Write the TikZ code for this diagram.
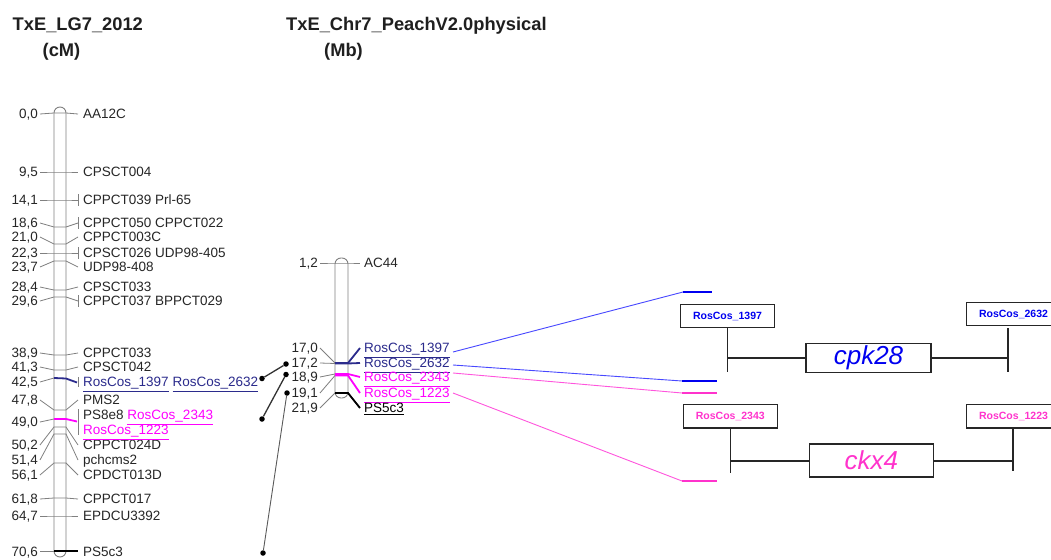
\documentclass[tikz,border=0pt]{standalone}
\usepackage{fontspec}
\setmainfont{Liberation Sans}
\definecolor{txt}{HTML}{262626}
\definecolor{tick}{HTML}{808080}
\definecolor{navy}{HTML}{2B2B8C}
\definecolor{mag}{HTML}{FF00FF}
\definecolor{blu}{HTML}{0000F0}
\definecolor{pnk}{HTML}{FF33CC}
\definecolor{bluL}{HTML}{4848FF}
\definecolor{pnkL}{HTML}{FF55DD}
\begin{document}
\begin{tikzpicture}[x=1pt,y=-1pt,
  lab/.style={font=\fontsize{13.5}{16}\selectfont, inner sep=0pt, text=txt, text height=9.8pt, text depth=0pt},
  num/.style={lab, anchor=east},
  nam/.style={lab, anchor=west},
  tk/.style={draw=tick, line width=0.8pt},
  chrom/.style={draw=tick, line width=0.9pt, rounded corners=6pt},
  ttl/.style={font=\fontsize{18.3}{21}\bfseries\selectfont, inner sep=0pt, anchor=west, text=black!88, text height=13pt, text depth=0pt},
  dot/.style={circle, fill=black, inner sep=0pt, minimum size=5.5pt},
  link/.style={line width=1.3pt, draw=black!80},
  mk/.style={line width=1.8pt},
  tag/.style={draw=black!85, line width=1.2pt, inner sep=0pt, minimum width=93.6pt, minimum height=23.5pt, font=\fontsize{10.5}{12}\bfseries\selectfont},
  gene/.style={draw=black!85, line width=1.6pt, inner sep=0pt, font=\fontsize{26}{30}\itshape\selectfont},
  arm/.style={line width=1.6pt, draw=black!85},
  thin/.style={line width=0.9pt},
  bar/.style={line width=2pt}]
\useasboundingbox (0,0) rectangle (1051,559);
\clip (0,0) rectangle (1051,559);
\fill[white] (0,0) rectangle (1051,559);

% titles
\node[ttl] (t1) at (12.5,24) {TxE\_LG7\_2012};
\node[ttl] (t1u) at (42.5,50) {(cM)};
\node[ttl] (t2) at (286,24) {TxE\_Chr7\_PeachV2.0physical};
\node[ttl] (t2u) at (324,50) {(Mb)};

% left chromosome
\draw[chrom] (54,107) rectangle (66,557);
\foreach \ly/\cy/\num/\nm/\br [count=\k] in {
 114/113/{0,0}/AA12C/0,
 172/172/{9,5}/CPSCT004/0,
 200/200/{14,1}/{CPPCT039 Prl-65}/1,
 223/227/{18,6}/{CPPCT050 CPPCT022}/1,
 237/244/{21,0}/CPPCT003C/0,
 253/253/{22,3}/{CPSCT026 UDP98-405}/1,
 267/261/{23,7}/UDP98-408/0,
 287/290/{28,4}/CPSCT033/0,
 301/297/{29,6}/{CPPCT037 BPPCT029}/1,
 353/355/{38,9}/CPPCT033/0,
 367/370/{41,3}/CPSCT042/0,
 400/410/{47,8}/PMS2/0,
 445/427/{50,2}/CPPCT024D/0,
 460/434/{51,4}/pchcms2/0,
 475/463/{56,1}/CPDCT013D/0,
 499/498/{61,8}/CPPCT017/0,
 516/516/{64,7}/EPDCU3392/0}{
  \node[num] (lnum\k) at (38,\ly) {\num};
  \node[nam] (lnam\k) at (83,\ly) {\nm};
  \coordinate (lcl\k) at (54,\cy);
  \coordinate (lcr\k) at (66,\cy);
  \draw[tk] ([xshift=2pt]lnum\k.east) -- (lcl\k) -- (lcr\k) -- ([xshift=-5pt]lnam\k.west);
  \ifnum\br=1 \draw[tk] (78,\ly-6) -- (78,\ly+6); \fi
}
% 42,5 navy group
\node[num] (lnumA) at (38,382) {42,5};
\node[nam] (lnamA) at (83,382) {\textcolor{navy}{\underline{RosCos\_1397}} \textcolor{navy}{\underline{RosCos\_2632}}};
\coordinate (lclA) at (54,378); \coordinate (lcrA) at (66,378.5);
\draw[tk] ([xshift=2pt]lnumA.east) -- (lclA);
\draw[navy, mk] (lclA) -- (lcrA) -- (77,382.5);
\draw[tk] (78,377) -- (78,387);
% 49,0 magenta group
\node[num] (lnumB) at (38,422) {49,0};
\node[nam] (lnamB) at (83,415) {PS8e8 \textcolor{mag}{\underline{RosCos\_2343}}};
\node[nam] (lnamC) at (83,430) {\textcolor{mag}{\underline{RosCos\_1223}}};
\coordinate (lclB) at (54,419); \coordinate (lcrB) at (66,419);
\draw[tk] ([xshift=2pt]lnumB.east) -- (lclB);
\draw[mag, mk] (lclB) -- (lcrB) -- (77,421.5);
\draw[tk] (78,409) -- (78,435);
% 70,6
\node[num] (lnumC) at (38,552) {70,6};
\node[nam] (lnamD) at (83,552) {PS5c3};
\coordinate (lclC) at (54,551); \coordinate (lcrC) at (66,551);
\draw[tk] ([xshift=2pt]lnumC.east |- lclC) -- (lclC);
\draw[black, mk] (lclC) -- (lcrC) -- (78,551);

% middle chromosome
\draw[chrom] (335,258) rectangle (348,398);
\node[num] (mnum0) at (318,263) {1,2};
\node[nam] (mnam0) at (364,263) {AC44};
\draw[tk] ([xshift=2pt]mnum0.east) -- (335,263) -- (348,263) -- ([xshift=-4pt]mnam0.west);
\foreach \ly/\cy/\num/\nm/\col [count=\k] in {
 348/363/{17,0}/RosCos\_1397/navy,
 363/363.5/{17,2}/RosCos\_2632/navy,
 377/374/{18,9}/RosCos\_2343/mag,
 393/375.5/{19,1}/RosCos\_1223/mag,
 408/393/{21,9}/PS5c3/black}{
  \node[num] (mnum\k) at (318,\ly) {\num};
  \node[nam, text=\col] (mnam\k) at (364,\ly) {\underline{\nm}};
  \coordinate (mcl\k) at (335,\cy);
  \coordinate (mcr\k) at (348,\cy);
  \draw[tk] ([xshift=2pt]mnum\k.east) -- (mcl\k);
  \draw[\col, mk] (mcl\k) -- (mcr\k) -- ([xshift=-4pt]mnam\k.west);
}

% links between maps
\node[dot] (d1a) at (262,378.5) {};
\node[dot] (d1b) at (286,364) {};
\node[dot] (d2a) at (262,419) {};
\node[dot] (d2b) at (286,374.5) {};
\node[dot] (d3a) at (263,553) {};
\node[dot] (d3b) at (287,393) {};
\draw[link] (d1a) -- (d1b);
\draw[link] (d2a) -- (d2b);
\draw[line width=0.9pt, draw=black!65] (d3a) -- (d3b);

% lines to the gene panel
\coordinate (s1) at (453,352); \coordinate (e1) at (683,292); \coordinate (f1) at (712,292);
\coordinate (s2) at (453,365); \coordinate (e2) at (682,381); \coordinate (f2) at (717,381);
\coordinate (s3) at (453,373); \coordinate (e3) at (682,393); \coordinate (f3) at (717,393);
\coordinate (s4) at (453,393); \coordinate (e4) at (682,481); \coordinate (f4) at (717,481);
\draw[bluL, thin] (s1) -- (e1); \draw[blu, bar] (e1) -- (f1);
\draw[bluL, thin] (s2) -- (e2); \draw[blu, bar] (e2) -- (f2);
\draw[pnkL, thin] (s3) -- (e3); \draw[pnk, bar] (e3) -- (f3);
\draw[pnkL, thin] (s4) -- (e4); \draw[pnk, bar] (e4) -- (f4);

% gene panel
\node[tag, text=blu] (tA) at (727.5,316) {RosCos\_1397};
\node[tag, text=blu] (tB) at (1013.5,314) {RosCos\_2632};
\node[gene, text=blu, minimum width=125pt, minimum height=29pt] (g1) at (868.5,357.8) {cpk28};
\node[tag, text=pnk] (tC) at (730.3,416.2) {RosCos\_2343};
\node[tag, text=pnk] (tD) at (1013.5,416.3) {RosCos\_1223};
\node[gene, text=pnk, minimum width=124pt, minimum height=33pt] (g2) at (871.3,460.7) {ckx4};

\coordinate (aA) at (728.3,372.3);
\draw[arm] (tA.south) -- (tA.south |- aA);
\draw[arm] (tA.south |- g1.west) -- (g1.west);
\coordinate (jB) at (1007.7,357.8);
\draw[arm] (g1.east) -- (jB);
\coordinate (vB1) at (1007.7,328); \coordinate (vB2) at (1007.7,372);
\draw[arm] (vB1) -- (vB2);

\coordinate (aC) at (730.7,472.7);
\draw[arm] (tC.south) -- (tC.south |- aC);
\draw[arm] (tC.south |- g2.west) -- (g2.west);
\coordinate (jD) at (1012.7,460.7);
\draw[arm] (g2.east) -- (jD);
\coordinate (vD1) at (1012.7,428.7); \coordinate (vD2) at (1012.7,471);
\draw[arm] (vD1) -- (vD2);
\end{tikzpicture}
\end{document}
